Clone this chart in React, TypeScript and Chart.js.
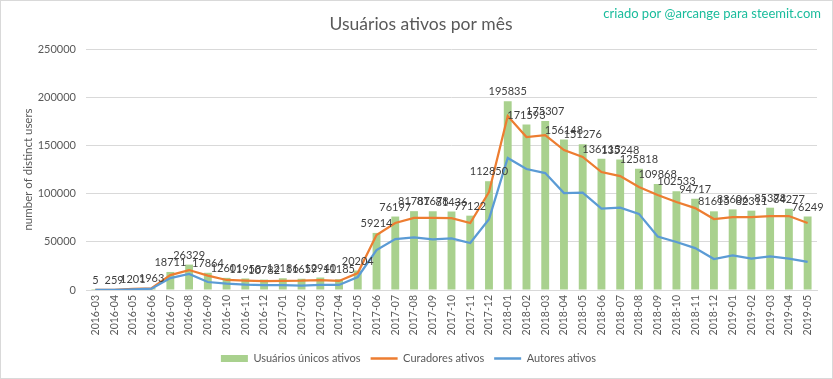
import { useEffect, useRef } from "react";
import { Chart, registerables } from "chart.js";

Chart.register(...registerables);

const categories = [
  "2016-03", "2016-04", "2016-05", "2016-06", "2016-07", "2016-08", "2016-09", "2016-10", "2016-11", "2016-12",
  "2017-01", "2017-02", "2017-03", "2017-04", "2017-05", "2017-06", "2017-07", "2017-08", "2017-09", "2017-10", "2017-11", "2017-12",
  "2018-01", "2018-02", "2018-03", "2018-04", "2018-05", "2018-06", "2018-07", "2018-08", "2018-09", "2018-10", "2018-11", "2018-12",
  "2019-01", "2019-02", "2019-03", "2019-04", "2019-05",
];

const uniqueUsers = [
  5, 259, 1201, 1963, 18711, 26329, 17864, 12601, 11958, 10782,
  12186, 11659, 12940, 11185, 20204, 59214, 76197, 81787, 81678, 81436, 77122, 112850,
  195835, 171593, 175307, 156148, 151276, 136113, 135248, 125818, 109868, 102533, 94717, 81615,
  83606, 82311, 85378, 84277, 76249,
];

const curators = [
  4, 230, 1100, 1800, 15500, 20700, 15000, 10400, 9800, 9200,
  9500, 9600, 10200, 9400, 17600, 57000, 69500, 74700, 74800, 74600, 69500, 101600,
  180400, 158700, 160700, 145200, 138000, 122400, 118200, 106800, 98500, 91300, 85000, 73600,
  75700, 75700, 76700, 76700, 69500,
];

const authors = [
  3, 150, 700, 1300, 12400, 16600, 8300, 6500, 5500, 5000,
  5000, 4500, 5400, 5200, 13500, 41500, 52900, 54500, 52500, 53500, 48700, 73500,
  137000, 125500, 121300, 100600, 101000, 84500, 85500, 79000, 55500, 49800, 43500, 32100,
  35800, 32500, 34800, 32500, 29200,
];

const yTicks = [0, 50000, 100000, 150000, 200000, 250000];

const seriesNames = ["Usuários únicos ativos", "Curadores ativos", "Autores ativos"];
const titleText = "Usuários ativos por mês";
const creditText = "criado por @arcange para steemit.com";
const yAxisTitle = "number of distinct users";

const FONT = "Lato";
const TEXT = "#595959";

const decorPlugin = {
  id: "decor",
  beforeDraw(chart: any) {
    const ctx = chart.ctx;
    ctx.save();
    ctx.fillStyle = "#ffffff";
    ctx.fillRect(0, 0, chart.width, chart.height);
    ctx.strokeStyle = "#d9d9d9";
    ctx.lineWidth = 1;
    ctx.strokeRect(0.5, 0.5, chart.width - 1, chart.height - 1);
    ctx.restore();
  },
  afterDraw(chart: any) {
    const ctx = chart.ctx;
    const area = chart.chartArea;
    ctx.save();
    ctx.textBaseline = "middle";
    ctx.fillStyle = TEXT;
    ctx.font = `17.5px ${FONT}`;
    ctx.textAlign = "center";
    ctx.fillText(titleText, 421, 24);
    ctx.fillStyle = "#1abc9c";
    ctx.font = `13px ${FONT}`;
    ctx.textAlign = "right";
    ctx.fillText(creditText, 821, 14);
    // y axis title
    ctx.translate(28, (area.top + area.bottom) / 2);
    ctx.rotate(-Math.PI / 2);
    ctx.fillStyle = TEXT;
    ctx.font = `11.5px ${FONT}`;
    ctx.textAlign = "center";
    ctx.fillText(yAxisTitle, 0, 0);
    ctx.restore();
  },
  afterDatasetsDraw(chart: any) {
    const ctx = chart.ctx;
    const meta = chart.getDatasetMeta(0);
    ctx.save();
    ctx.font = `11px ${FONT}`;
    ctx.fillStyle = "#404040";
    ctx.textAlign = "center";
    ctx.textBaseline = "bottom";
    meta.data.forEach((el: any, i: number) => {
      ctx.fillText(String(uniqueUsers[i]), el.x, el.y - 4);
    });
    ctx.restore();
  },
};

export default function App() {
  const ref = useRef<HTMLCanvasElement>(null);
  useEffect(() => {
    document.body.style.margin = "0";
    const chart = new Chart(ref.current as HTMLCanvasElement, {
      type: "bar",
      data: {
        labels: categories,
        datasets: [
          {
            type: "bar",
            label: seriesNames[0],
            data: uniqueUsers,
            backgroundColor: "#a9d18e",
            borderWidth: 0,
            barPercentage: 0.42,
            categoryPercentage: 1,
            order: 3,
          },
          {
            type: "line",
            label: seriesNames[1],
            data: curators,
            borderColor: "#ed7d31",
            backgroundColor: "#ed7d31",
            borderWidth: 2.25,
            pointRadius: 0,
            tension: 0,
            order: 2,
          },
          {
            type: "line",
            label: seriesNames[2],
            data: authors,
            borderColor: "#5b9bd5",
            backgroundColor: "#5b9bd5",
            borderWidth: 2.25,
            pointRadius: 0,
            tension: 0,
            order: 1,
          },
        ],
      } as any,
      options: {
        responsive: false,
        animation: false,
        devicePixelRatio: 1,
        layout: { padding: { top: 49, right: 16, bottom: 5, left: 0 } },
        plugins: {
          title: { display: false },
          tooltip: { enabled: false },
          legend: {
            position: "bottom",
            labels: {
              usePointStyle: true,
              pointStyleWidth: 27,
              boxHeight: 7,
              padding: 10,
              color: TEXT,
              font: { family: FONT, size: 11 },
              generateLabels: (c: any) =>
                c.data.datasets.map((ds: any, i: number) => ({
                  text: ds.label,
                  fillStyle: ds.backgroundColor,
                  strokeStyle: ds.borderColor || ds.backgroundColor,
                  lineWidth: i === 0 ? 0 : 2.5,
                  pointStyle: i === 0 ? "rect" : "line",
                  hidden: false,
                  datasetIndex: i,
                  fontColor: TEXT,
                })),
            },
          },
        },
        scales: {
          x: {
            grid: { display: false, drawTicks: false },
            border: { display: true, color: "#d9d9d9" },
            ticks: {
              autoSkip: false,
              minRotation: 90,
              maxRotation: 90,
              padding: 5,
              color: TEXT,
              font: { family: FONT, size: 10.5 },
            },
            afterFit: (s: any) => {
              s.height = 53;
            },
          },
          y: {
            min: yTicks[0],
            max: yTicks[yTicks.length - 1],
            afterBuildTicks: (s: any) => {
              s.ticks = yTicks.map((v) => ({ value: v }));
            },
            ticks: {
              padding: 10,
              color: TEXT,
              font: { family: FONT, size: 11 },
              callback: (v: any) => String(v),
            },
            grid: { color: "#d9d9d9", drawTicks: false },
            border: { display: false },
            title: { display: false },
            afterFit: (s: any) => {
              s.width = 86;
            },
          },
        },
      } as any,
      plugins: [decorPlugin],
    });
    return () => chart.destroy();
  }, []);
  return (
    <div style={{ width: 833, height: 379 }}>
      <canvas ref={ref} width={833} height={379} />
    </div>
  );
}
